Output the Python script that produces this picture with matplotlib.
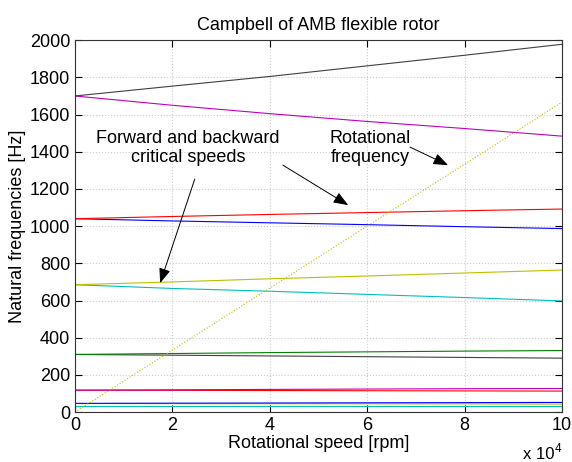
import matplotlib
matplotlib.use("Agg")
import matplotlib.pyplot as plt

plt.rcParams["font.family"] = ["Liberation Sans", "DejaVu Sans"]

# rotational speed, units of 1e4 rpm
speed = [0, 2, 4, 6, 8, 10]

# natural frequencies [Hz] of each mode, read at each speed tick
mode_k_hi = [1700, 1753, 1805, 1862, 1919, 1978]
mode_m_hi = [1700, 1650, 1605, 1563, 1525, 1484]
mode_r_4 = [1040, 1052, 1063, 1073, 1083, 1092]
mode_b_4 = [1040, 1028, 1018, 1008, 997, 987]
mode_y_3 = [685, 700, 717, 732, 748, 764]
mode_c_3 = [685, 665, 650, 633, 616, 598]
mode_g_2 = [310, 315, 320, 324, 328, 331]
mode_k_2 = [310, 306, 302, 298, 294, 290]
mode_m_1 = [118, 120, 122, 124, 126, 127]
mode_r_1 = [118, 117, 116, 115, 114, 113]
mode_b_0 = [47, 48, 49, 50, 51, 52]
mode_y_0 = [46, 45.5, 45, 44.5, 44, 43]
mode_c_0 = [32, 32, 32, 32, 32, 32]

# rotational frequency rpm/60
rot_freq = [0, 333.3, 666.7, 1000, 1333.3, 1666.7]

# old MATLAB colour order
C = {"b": (0, 0, 1), "g": (0, 0.5, 0), "r": (1, 0, 0), "c": (0, 0.75, 0.75),
     "m": (0.75, 0, 0.75), "y": (0.75, 0.75, 0), "k": (0.25, 0.25, 0.25)}

modes = [
    (mode_c_0, "c"), (mode_y_0, "y"), (mode_b_0, "b"),
    (mode_r_1, "r"), (mode_m_1, "m"),
    (mode_k_2, "k"), (mode_g_2, "g"),
    (mode_c_3, "c"), (mode_y_3, "y"),
    (mode_b_4, "b"), (mode_r_4, "r"),
    (mode_m_hi, "m"), (mode_k_hi, "k"),
]

fig = plt.figure(figsize=(5.72, 4.62), dpi=100)
ax = fig.add_axes([0.131, 0.108, 0.8515, 0.805])

for vals, col in modes:
    ax.plot(speed, vals, color=C[col], lw=0.8)
ax.plot(speed, rot_freq, color=C["y"], lw=0.8, ls=":")

ax.set_xlim(0, 10)
ax.set_ylim(0, 2000)
ax.set_xticks(speed)
ax.set_yticks(range(0, 2001, 200))
ax.tick_params(direction="in", top=True, right=True, length=5, labelsize=13, width=0.8)
for s in ax.spines.values():
    s.set_linewidth(0.8)
    s.set_color("0.2")
ax.grid(True, ls=":", color="0.8", lw=0.8)

ax.set_title("Campbell of AMB flexible rotor", fontsize=13, pad=7)
ax.set_xlabel("Rotational speed [rpm]", fontsize=13, labelpad=1)
ax.set_ylabel("Natural frequencies [Hz]", fontsize=13, labelpad=3)
fig.text(0.942, 0.006, "x 10", fontsize=12, ha="center", va="baseline")
fig.text(0.969, 0.021, "4", fontsize=8.5, ha="left", va="baseline")

ax.text(2.32, 1422, "Forward and backward\ncritical speeds", fontsize=13,
        ha="center", va="center", linespacing=1.15)
ax.text(6.06, 1422, "Rotational\nfrequency", fontsize=13,
        ha="center", va="center", linespacing=1.15)

arrow = dict(arrowstyle="-|>,head_length=0.9,head_width=0.35", color="k",
             lw=0.7, shrinkA=0, shrinkB=0)
ax.annotate("", xy=(1.75, 694), xytext=(2.46, 1253), arrowprops=arrow)
ax.annotate("", xy=(5.61, 1113), xytext=(4.27, 1328), arrowprops=arrow)
ax.annotate("", xy=(7.66, 1328), xytext=(6.88, 1425), arrowprops=arrow)

fig.savefig("out.png", dpi=100)
